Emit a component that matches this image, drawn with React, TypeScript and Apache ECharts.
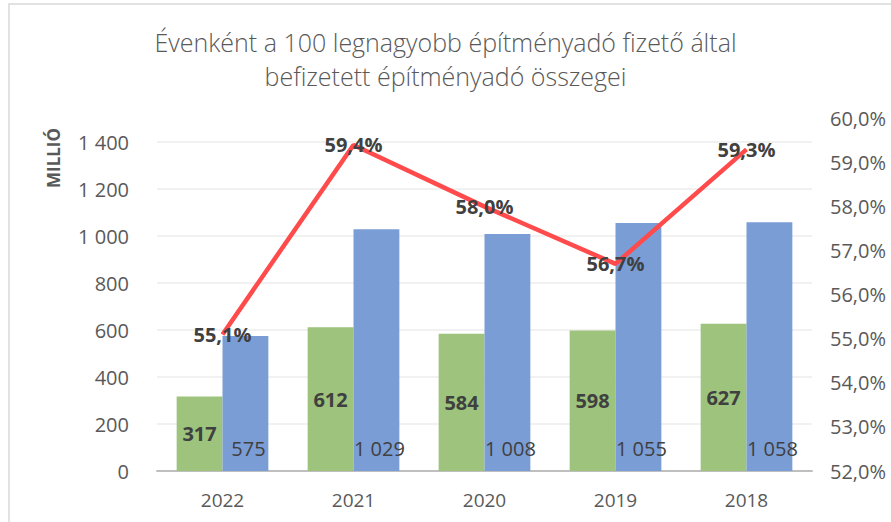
import React, { useEffect, useRef } from "react";
import * as echarts from "echarts";

const years = ["2022", "2021", "2020", "2019", "2018"];
const top100Values = [317, 612, 584, 598, 627];
const totalValues = [575, 1029, 1008, 1055, 1058];
const sharePercent = [55.1, 59.4, 58.0, 56.7, 59.3];
const titleText = "Évenként a 100 legnagyobb építményadó fizető által\nbefizetett építményadó összegei";
const leftAxisName = "MILLIÓ";

const FONT = "'Open Sans', 'Noto Sans', sans-serif";
const fmtThousands = (v: number) => String(Math.round(v)).replace(/\B(?=(\d{3})+(?!\d))/g, " ");
const fmtPct = (v: number) => v.toFixed(1).replace(".", ",") + "%";

export default function App() {
  const ref = useRef<HTMLDivElement>(null);
  useEffect(() => {
    if (!ref.current) return;
    const chart = echarts.init(ref.current, undefined, { renderer: "svg" });
    chart.setOption({
      animation: false,
      backgroundColor: "#ffffff",
      title: {
        text: titleText,
        left: "center",
        top: 20,
        textStyle: {
          fontFamily: FONT,
          fontWeight: 300,
          fontSize: 25,
          color: "#595959",
          lineHeight: 34,
        },
      },
      graphic: [
        {
          type: "rect",
          shape: { x: 9, y: 4, width: 900, height: 530 },
          style: { fill: "none", stroke: "#d9d9d9", lineWidth: 1.5 },
          silent: true,
        },
        {
          type: "text",
          x: 53,
          y: 158,
          rotation: Math.PI / 2,
          style: {
            text: leftAxisName,
            fontFamily: FONT,
            fontWeight: "bold",
            fontSize: 17,
            fill: "#595959",
            align: "center",
            verticalAlign: "middle",
          },
        },
      ],
      grid: { left: 157, right: 79, top: 118.5, bottom: 51 },
      xAxis: {
        type: "category",
        data: years,
        axisLine: { lineStyle: { color: "#bfbfbf", width: 2 } },
        axisTick: { show: false },
        axisLabel: { fontFamily: FONT, fontSize: 19, color: "#595959", margin: 19 },
      },
      yAxis: [
        {
          type: "value",
          min: 0,
          max: 1500,
          interval: 200,
          axisLine: { show: false },
          axisTick: { show: false },
          splitLine: { showMaxLine: false, lineStyle: { color: "#ececec", width: 1.5 } },
          axisLabel: {
            showMaxLabel: false,
            margin: 28,
            fontFamily: FONT,
            fontSize: 20,
            color: "#595959",
            formatter: (v: number) => (v > 1400 ? "" : fmtThousands(v)),
          },
        },
        {
          type: "value",
          min: 52,
          max: 60,
          interval: 1,
          axisLine: { show: false },
          axisTick: { show: false },
          splitLine: { show: false },
          axisLabel: {
            margin: 18,
            fontFamily: FONT,
            fontSize: 20,
            color: "#595959",
            formatter: (v: number) => fmtPct(v),
          },
        },
      ],
      series: [
        {
          type: "bar",
          data: top100Values,
          barGap: "0%",
          barCategoryGap: "30%",
          itemStyle: { color: "#9DC37D" },
          label: {
            show: true,
            position: "inside",
            fontFamily: FONT,
            fontWeight: "bold",
            fontSize: 20,
            color: "#404040",
            formatter: (p: any) => fmtThousands(p.value),
          },
        },
        {
          type: "bar",
          data: totalValues,
          itemStyle: { color: "#7A9DD6" },
          label: {
            show: true,
            position: "insideBottom",
            distance: 13,
            offset: [3, 0],
            fontFamily: FONT,
            fontSize: 20,
            color: "#404040",
            formatter: (p: any) => fmtThousands(p.value),
          },
        },
        {
          type: "line",
          yAxisIndex: 1,
          data: sharePercent,
          z: 5,
          symbol: "circle",
          symbolSize: 0.1,
          itemStyle: { color: "#FF4B4B" },
          lineStyle: { color: "#FF4B4B", width: 4.5 },
          label: {
            show: true,
            position: "inside",
            fontFamily: FONT,
            fontWeight: "bold",
            fontSize: 20,
            color: "#404040",
            formatter: (p: any) => fmtPct(p.value),
          },
        },
      ],
    });
    return () => chart.dispose();
  }, []);
  return (
    <div
      ref={ref}
      style={{ position: "fixed", left: 0, top: 0, width: 891, height: 522 }}
    />
  );
}
